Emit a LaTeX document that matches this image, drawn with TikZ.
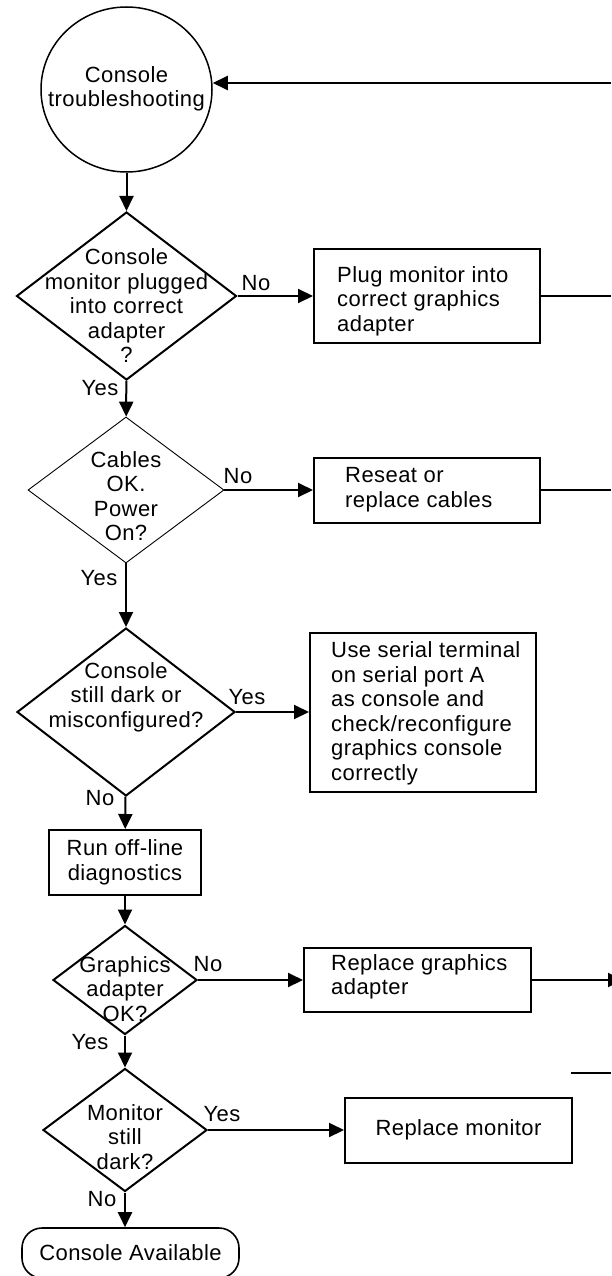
\documentclass[tikz,border=0pt]{standalone}
\usepackage{fontspec}
\setmainfont{Liberation Sans}[LetterSpace=2]
\usetikzlibrary{arrows.meta,shapes.geometric}
\definecolor{Stroke}{HTML}{000000}
\definecolor{Paper}{HTML}{FFFFFF}

\begin{document}
\begin{tikzpicture}[x=1pt,y=-1pt,
    every node/.style={font=\fontsize{22}{24.5}\selectfont,text=Stroke},
    flow/.style={line width=2pt,draw=Stroke,-{Triangle[length=15pt,width=14pt]}},
    wire/.style={line width=2pt,draw=Stroke},
    decision/.style={diamond,draw=Stroke,line width=2pt,inner sep=0pt},
    taskbox/.style={rectangle,draw=Stroke,line width=2pt,inner sep=0pt},
    boxtext/.style={anchor=west,align=left,inner sep=0pt},
    answer/.style={inner sep=0pt}]
    \useasboundingbox[fill=Paper] (0,0) rectangle (611,1276);
    \node[ellipse,draw=Stroke,line width=1.5pt,inner sep=0pt,minimum width=171pt,minimum height=165pt] (start) at (126.5,89.5) {};
    \node[align=center] (startText) at (126.5,89) {Console\\troubleshooting};
    \node[decision,minimum width=220pt,minimum height=168pt] (plugged) at (126.5,296) {};
    \node[align=center] (pluggedText) at (126.5,306) {Console\\monitor plugged\\into correct\\adapter\\?};
    \node[decision,line width=0.9pt,minimum width=196pt,minimum height=146pt] (cables) at (126,490) {};
    \node[align=center] (cablesText) at (126,496) {Cables\\OK.\\Power\\On?};
    \node[decision,minimum width=218pt,minimum height=168pt] (dark) at (126,712) {};
    \node[align=center] (darkText) at (126,697) {Console\\still dark or\\misconfigured?};
    \node[taskbox,align=center,minimum width=152pt,minimum height=65pt] (diag) at (125,862.5) {Run off-line\\diagnostics};
    \node[decision,minimum width=144pt,minimum height=109pt] (adapter) at (125,980) {};
    \node[align=center] (adapterText) at (125,989) {Graphics\\adapter\\OK?};
    \node[decision,minimum width=164pt,minimum height=123pt] (monitor) at (125,1130) {};
    \node[align=center] (monitorText) at (125,1137) {Monitor\\still\\dark?};
    \node[rectangle,rounded corners=20pt,draw=Stroke,line width=1.6pt,minimum width=217pt,minimum height=50pt] (avail) at (130.5,1253) {Console Available};

    \node[taskbox,minimum width=226pt,minimum height=94pt] (plug) at (427,296) {};
    \node[boxtext] (plugText) at (337,301) {Plug monitor into\\correct graphics\\adapter};
    \node[taskbox,minimum width=226pt,minimum height=65pt] (reseat) at (427,490) {};
    \node[boxtext] (reseatText) at (345,489.5) {Reseat or\\replace cables};
    \node[taskbox,minimum width=226pt,minimum height=159pt] (serial) at (423,712) {};
    \node[boxtext] (serialText) at (331,713.5) {Use serial terminal\\on serial port A\\as console and\\check/reconfigure\\graphics console\\correctly};
    \node[taskbox,minimum width=227pt,minimum height=64pt] (newAdapter) at (417.5,980) {};
    \node[boxtext] (newAdapterText) at (331,977) {Replace graphics\\adapter};
    \node[taskbox,minimum width=227pt,minimum height=65pt] (newMonitor) at (458.5,1130) {Replace monitor};

    \coordinate (backTop) at (611,83);
    \coordinate (outPlug) at (611,296);
    \coordinate (outReseat) at (611,490);
    \coordinate (outAdapter) at (623,980);
    \coordinate (stubLeft) at (571,1073);
    \coordinate (stubRight) at (611,1073);

    \draw[flow] (backTop) -- (backTop -| start.east);
    \draw[flow] (start) -- (plugged);
    \draw[flow] (plugged) -- (cables);
    \draw[flow] (cables) -- (dark);
    \draw[flow] (dark) -- (diag);
    \draw[flow] (diag) -- (adapter);
    \draw[flow] (adapter) -- (monitor);
    \draw[flow] (monitor.south) -- (monitor.south |- avail.north);
    \draw[flow] (plugged) -- (plug);
    \draw[flow] (cables) -- (reseat);
    \draw[flow] (dark) -- (serial);
    \draw[flow] (adapter) -- (newAdapter);
    \draw[flow] (monitor) -- (newMonitor);
    \draw[wire] (plug) -- (outPlug);
    \draw[wire] (reseat) -- (outReseat);
    \draw[flow] (newAdapter) -- (outAdapter);
    \draw[wire] (stubLeft) -- (stubRight);

    \node[answer] (pluggedNo) at (256,283) {No};
    \node[answer] (pluggedYes) at (100,388) {Yes};
    \node[answer] (cablesNo) at (238,476) {No};
    \node[answer] (cablesYes) at (99,578) {Yes};
    \node[answer] (darkYes) at (247,697) {Yes};
    \node[answer] (darkNo) at (100,798) {No};
    \node[answer] (adapterNo) at (208,964) {No};
    \node[answer] (adapterYes) at (90,1042) {Yes};
    \node[answer] (monitorYes) at (222,1114) {Yes};
    \node[answer] (monitorNo) at (102,1199) {No};
  \end{tikzpicture}
\end{document}
